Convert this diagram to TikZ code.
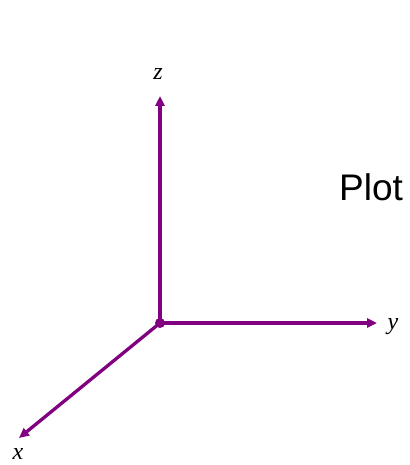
\documentclass[tikz,border=0pt]{standalone}
\usepackage{fontspec}
\setmainfont{Liberation Serif}
\newfontfamily\plotfont{Liberation Sans}
\usetikzlibrary{arrows.meta}
\definecolor{axpurple}{RGB}{128,0,128}
\begin{document}
\begin{tikzpicture}[x=1pt,y=-1pt,
  axis/.style={draw=axpurple,line width=3.3pt,-{Triangle[length=10pt,width=9pt]}},
  lbl/.style={font=\fontsize{24}{26}\selectfont\itshape,inner sep=0pt}]
\useasboundingbox (0,0) rectangle (409,465);
\coordinate (o) at (160,323);
\node[lbl] (zl) at (158,74) {z};
\node[lbl] (yl) at (393,327) {y};
\node[lbl] (xl) at (18,454) {x};
\coordinate (zt) at (160,96);
\coordinate (yt) at (377,323);
\coordinate (xt) at (19,438);
\draw[axis] (o) -- (zt);
\draw[axis] (o) -- (yt);
\draw[axis] (o) -- (xt);
\fill[axpurple] (o) circle (5pt);
\node[font=\plotfont\fontsize{37}{40}\selectfont,inner sep=0pt,anchor=base west] (plot) at (339,200) {Plot};
\end{tikzpicture}
\end{document}
